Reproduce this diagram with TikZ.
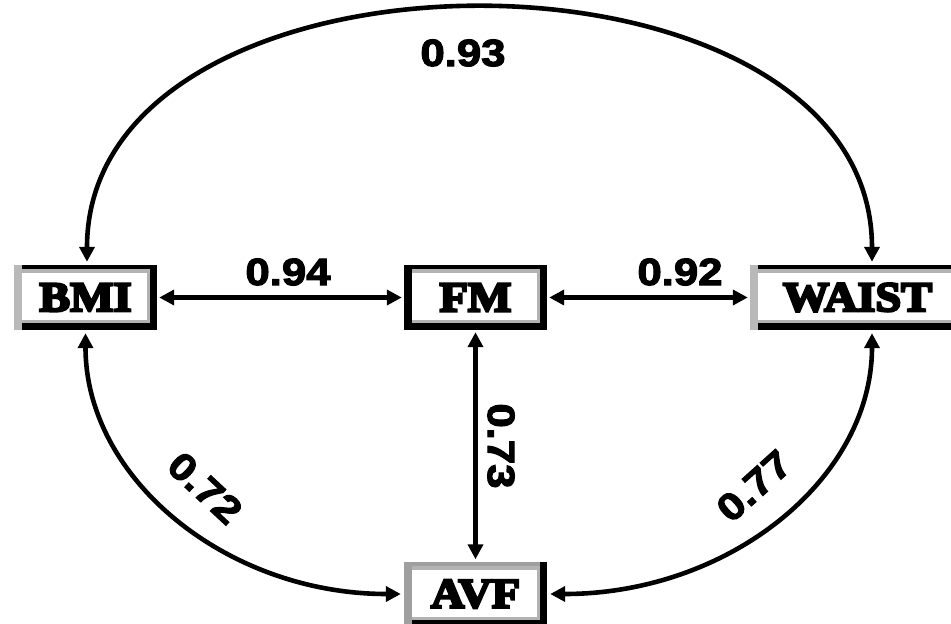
\documentclass[tikz,border=0pt]{standalone}
\usepackage{fontspec}
\usetikzlibrary{arrows.meta}
\newfontfamily\numfont[FakeStretch=1.15,FakeBold=3]{Liberation Sans Bold}
\newfontfamily\varfont[FakeStretch=1.1,FakeBold=6]{Liberation Serif Bold}

\tikzset{
  boxtop/.initial=black,
  boxleft/.initial=gray!55,
  boxright/.initial=black,
  boxbottom/.initial=black,
  boxinner/.initial=gray!60,
  % framed variable box with a bevelled double border
  varbox/.style={
    rectangle, inner sep=0pt, minimum width=143pt, minimum height=65pt,
    fill=black, text=black,
    font=\varfont\fontsize{42}{42}\selectfont,
    path picture={
      \fill[\pgfkeysvalueof{/tikz/boxtop}]
        (path picture bounding box.south west) rectangle (path picture bounding box.north east);
      \fill[\pgfkeysvalueof{/tikz/boxbottom}]
        (path picture bounding box.south west) rectangle ([yshift=7pt]path picture bounding box.south east);
      \fill[\pgfkeysvalueof{/tikz/boxright}]
        ([xshift=-7pt]path picture bounding box.south east) rectangle (path picture bounding box.north east);
      \fill[\pgfkeysvalueof{/tikz/boxleft}]
        (path picture bounding box.south west) rectangle ([xshift=8pt]path picture bounding box.north west);
      \fill[\pgfkeysvalueof{/tikz/boxinner}]
        ([xshift=8pt,yshift=7pt]path picture bounding box.south west) rectangle ([xshift=-7pt,yshift=-4pt]path picture bounding box.north east);
      \fill[white]
        ([xshift=8pt,yshift=10pt]path picture bounding box.south west) rectangle ([xshift=-10pt,yshift=-8pt]path picture bounding box.north east);
    }
  },
  tip/.tip={Triangle[length=15pt,width=15pt]},
  conn/.style={line width=4.6pt, black, tip-tip},
  num/.style={font=\numfont\fontsize{38}{38}\selectfont, inner sep=0pt, text=black},
}

\begin{document}
\begin{tikzpicture}[x=1pt,y=-1pt]
\useasboundingbox (0,0) rectangle (951,624);
\fill[white] (0,0) rectangle (951,624);

% variables
\node[varbox] (bmi) at (85.5,297.5) {BMI};
\node[varbox, boxleft=black] (fm) at (475.5,297.5) {FM};
\node[varbox, minimum width=215pt] (waist) at (857.5,297.5) {WAIST};
\node[varbox, boxtop=gray!75, boxleft=gray!75] (avf) at (475.5,594) {AVF};

% correlations
\draw[conn, shorten <=2pt, shorten >=2pt] (bmi) -- (fm);
\draw[conn, shorten <=2pt, shorten >=2pt] (fm) -- (waist);
\draw[conn, line width=5.4pt, shorten <=2pt, shorten >=2pt] (fm) -- (avf);
\draw[conn] ([xshift=1.5pt,yshift=3pt]bmi.north) .. controls (87,-75) and (872,-75) .. ([xshift=14.5pt,yshift=3pt]waist.north);
\draw[conn] ([yshift=-3pt]bmi.south) .. controls (85.5,479) and (227,594) .. ([xshift=-3pt]avf.west);
\draw[conn] ([xshift=14.5pt,yshift=-3pt]waist.south) .. controls (872,479) and (729,594) .. ([xshift=3pt]avf.east);

% coefficients
\node[num] (c93) at (463,53) {0.93};
\node[num] (c94) at (288,272) {0.94};
\node[num] (c92) at (680,272) {0.92};
\node[num, rotate=-90] (c73) at (501,446) {0.73};
\node[num, rotate=-43] (c72) at (205,488) {0.72};
\node[num, rotate=42] (c77) at (754,486) {0.77};
\end{tikzpicture}
\end{document}
